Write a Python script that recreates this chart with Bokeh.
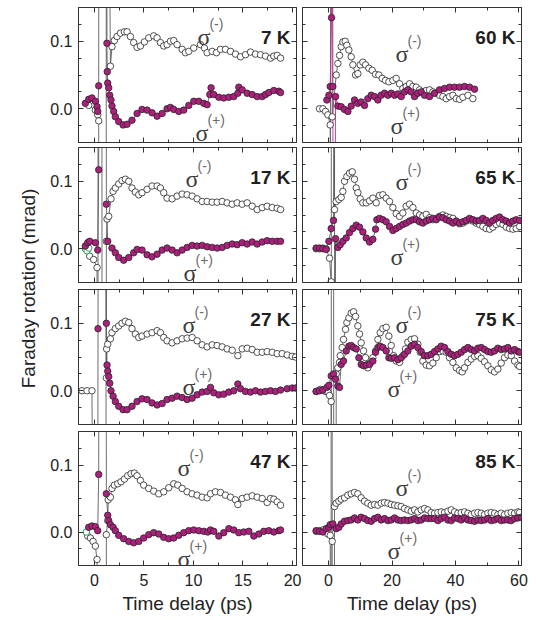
import math
from bokeh.plotting import figure
from bokeh.layouts import row, column
from bokeh.models import Label, LinearAxis, FixedTicker, Range1d, CustomJSTickFormatter
from bokeh.embed import file_html
from bokeh.resources import INLINE

# ---------------- data (time delay in ps, Faraday rotation in mrad) ----------------
# values of +/-0.9 are the off-scale coherent-artifact excursions near zero delay
t07m = [-0.57,0.10,0.34,0.44,0.46,1.19,1.21,1.23,1.62,1.78,2.02,2.29,2.63,3.03,3.30,3.64,3.97,4.31,4.65,5.05,5.49,5.99,6.33,6.67,7.00,7.34,7.68,8.01,8.35,8.86,9.19,9.53,10.03,10.71,11.11,11.38,11.89,12.32,12.73,13.23,13.74,14.24,14.75,15.25,15.76,16.26,16.77,17.27,17.78,18.11,18.45,18.79]
v07m = [0.005,-0.002,-0.009,-0.018,-0.9,-0.9,0.9,0.9,0.063,0.092,0.101,0.107,0.112,0.114,0.114,0.107,0.098,0.091,0.093,0.099,0.105,0.108,0.105,0.098,0.093,0.095,0.100,0.101,0.095,0.088,0.083,0.085,0.090,0.095,0.090,0.083,0.085,0.083,0.088,0.088,0.085,0.081,0.077,0.080,0.084,0.081,0.080,0.078,0.075,0.078,0.079,0.075]
t07p = [-0.91,-0.57,-0.24,0.10,0.27,0.34,0.44,0.46,1.26,1.27,1.30,1.35,1.45,1.55,1.68,1.78,1.95,2.12,2.46,2.90,3.30,3.80,4.31,4.81,5.32,5.82,6.33,6.84,7.34,7.68,8.01,8.52,9.02,9.53,10.03,10.54,11.04,11.38,11.65,11.78,12.05,12.56,13.06,13.57,14.07,14.48,14.58,14.92,15.42,15.93,16.43,16.94,17.27,17.61,18.11,18.62,18.79]
v07p = [0.008,0.014,0.016,0.011,0.003,-0.004,0.034,0.9,0.9,0.097,0.055,0.038,0.031,0.020,0.013,0.004,-0.004,-0.012,-0.019,-0.024,-0.023,-0.017,-0.007,-0.001,-0.002,-0.006,-0.011,-0.007,0.000,0.002,-0.001,-0.004,-0.002,0.005,0.011,0.011,0.008,0.006,0.021,0.031,0.021,0.017,0.016,0.017,0.018,0.023,0.032,0.028,0.023,0.021,0.018,0.018,0.021,0.024,0.027,0.026,0.024]

t17m = [-0.47,-0.07,0.27,0.36,0.38,0.76,0.78,1.19,1.21,1.28,1.45,1.68,1.89,2.12,2.46,2.79,3.13,3.47,3.80,4.14,4.48,4.81,5.32,5.82,6.33,6.67,7.00,7.34,7.85,8.35,8.86,9.36,9.87,10.37,10.88,11.38,11.89,12.39,12.90,13.40,13.91,14.41,14.92,15.42,15.93,16.43,16.94,17.44,17.95,18.45,18.79]
v17m = [-0.011,-0.016,-0.028,-0.9,0.9,0.9,-0.9,-0.9,0.011,0.044,0.048,0.074,0.085,0.090,0.096,0.101,0.103,0.100,0.090,0.084,0.080,0.083,0.088,0.093,0.093,0.090,0.083,0.075,0.074,0.078,0.081,0.080,0.078,0.074,0.070,0.070,0.069,0.069,0.070,0.068,0.066,0.068,0.066,0.068,0.063,0.058,0.061,0.063,0.061,0.060,0.058]
t17p = [-0.91,-0.67,-0.47,0.10,0.34,0.44,0.46,1.19,1.21,1.35,1.78,2.12,2.46,2.96,3.47,3.97,4.31,4.81,5.32,5.82,6.33,6.84,7.34,7.85,8.35,8.86,9.36,9.87,10.37,10.88,11.38,11.89,12.39,12.90,13.40,13.91,14.41,14.92,15.42,15.93,16.43,16.94,17.44,17.95,18.45,18.79]
v17p = [0.004,0.009,0.011,0.009,-0.002,0.117,0.9,0.9,0.066,0.011,0.001,-0.006,-0.013,-0.017,-0.013,-0.006,-0.001,-0.002,-0.009,-0.012,-0.008,-0.002,0.001,-0.002,-0.006,-0.002,0.002,0.005,0.004,0.005,0.003,0.002,0.001,0.002,0.005,0.007,0.006,0.009,0.007,0.010,0.007,0.010,0.012,0.011,0.011,0.011]
t17g = [-0.91,-0.74,-0.57]
v17g = [0.000,-0.003,0.001]

t27m = [-1.25,-0.74,-0.24,0.05,1.17,1.19,1.21,1.24,1.35,1.62,1.78,2.12,2.46,2.79,3.13,3.47,3.80,4.14,4.48,4.81,5.32,5.82,6.33,6.67,7.00,7.34,7.85,8.35,8.86,9.36,9.87,10.37,10.88,11.38,11.89,12.39,12.90,13.40,13.91,14.48,14.92,15.42,15.93,16.43,16.94,17.44,17.95,18.45,18.96,19.46,19.97,20.30]
v27m = [0.0,0.0,0.0,-0.9,-0.9,0.9,0.019,0.062,0.069,0.077,0.086,0.092,0.096,0.100,0.103,0.101,0.092,0.084,0.079,0.081,0.084,0.086,0.089,0.086,0.079,0.074,0.071,0.074,0.077,0.078,0.079,0.074,0.068,0.065,0.068,0.067,0.065,0.062,0.060,0.052,0.062,0.063,0.061,0.057,0.057,0.058,0.057,0.055,0.055,0.053,0.051,0.050]
t27p = [0.30,0.37,0.45,1.00,1.21,1.28,1.35,1.45,1.55,1.68,1.89,2.12,2.46,2.90,3.30,3.80,4.31,4.81,5.32,5.82,6.33,6.84,7.34,7.85,8.35,8.86,9.36,9.87,10.37,10.88,11.38,11.72,12.05,12.56,13.06,13.57,14.07,14.48,14.75,15.25,15.76,16.26,16.77,17.27,17.78,18.28,18.79,19.46,19.97,20.30]
v27p = [-0.9,0.092,0.9,0.9,0.100,0.038,0.029,0.021,0.011,0.000,-0.008,-0.016,-0.023,-0.028,-0.028,-0.023,-0.016,-0.012,-0.013,-0.018,-0.021,-0.019,-0.013,-0.011,-0.008,-0.010,-0.013,-0.011,-0.006,-0.002,-0.001,0.005,-0.003,-0.006,-0.005,-0.002,0.000,0.010,0.003,-0.001,-0.002,0.000,-0.002,-0.001,0.000,-0.001,0.001,0.003,0.004,0.004]

t47m = [-0.67,-0.40,-0.13,0.10,0.27,0.33,1.19,1.21,1.35,1.40,1.62,1.78,2.02,2.36,2.69,3.03,3.37,3.70,4.04,4.31,4.65,4.98,5.49,5.99,6.50,7.00,7.51,8.01,8.42,8.86,9.36,9.87,10.37,10.88,11.38,11.72,12.22,12.73,13.23,13.74,14.24,14.48,14.92,15.42,15.93,16.43,16.94,17.44,17.78,18.11,18.45,18.79]
v47m = [-0.006,-0.009,-0.014,-0.021,-0.041,-0.9,-0.9,-0.004,0.017,0.048,0.052,0.065,0.070,0.072,0.075,0.079,0.084,0.087,0.088,0.084,0.077,0.070,0.065,0.061,0.057,0.060,0.066,0.072,0.070,0.065,0.060,0.057,0.055,0.052,0.051,0.057,0.060,0.059,0.055,0.052,0.048,0.041,0.050,0.052,0.054,0.052,0.050,0.044,0.050,0.049,0.045,0.040]
t47p = [-0.57,-0.24,0.10,0.34,0.44,0.46,1.19,1.21,1.35,1.45,1.62,1.89,2.12,2.46,2.96,3.47,3.97,4.48,4.98,5.49,5.99,6.50,7.00,7.51,8.01,8.52,9.02,9.53,10.03,10.54,11.04,11.45,11.72,12.05,12.56,13.06,13.57,14.07,14.58,15.08,15.59,16.09,16.60,17.10,17.61,18.11,18.62,18.79]
v47p = [0.007,0.009,0.008,0.002,0.086,0.9,0.9,0.057,0.025,0.017,0.011,0.007,0.002,-0.005,-0.010,-0.014,-0.016,-0.014,-0.009,-0.004,-0.001,-0.003,-0.008,-0.010,-0.009,-0.005,-0.001,0.002,0.003,0.002,0.001,0.000,0.003,0.001,-0.006,-0.001,0.005,0.003,-0.001,0.000,0.001,-0.006,-0.003,0.001,0.002,0.000,0.002,0.003]
t47g = [-0.81]
v47g = [0.000]

t60m = [-2.84,-1.79,-0.95,-0.21,0.53,0.60,0.65,1.10,1.16,2.42,2.94,3.47,3.99,4.52,5.25,5.78,6.41,7.14,7.67,8.51,9.24,9.98,10.82,11.66,12.71,13.76,14.81,15.86,16.91,17.96,19.01,20.27,21.32,22.37,23.42,24.47,25.53,26.58,27.63,28.68,29.73,30.78,31.83,32.88,33.93,34.98,36.03,37.08,38.13,39.18,40.23,41.28,42.33,43.91,45.48]
v60m = [0.000,0.000,-0.004,-0.009,-0.024,-0.9,0.9,0.9,-0.012,0.050,0.067,0.079,0.092,0.099,0.100,0.094,0.087,0.077,0.065,0.050,0.052,0.065,0.069,0.065,0.060,0.057,0.051,0.050,0.045,0.042,0.040,0.042,0.045,0.037,0.030,0.033,0.037,0.033,0.032,0.028,0.025,0.027,0.028,0.025,0.023,0.020,0.018,0.015,0.018,0.020,0.015,0.014,0.017,0.020,0.015]
t60p = [-0.53,0.11,0.53,0.95,1.00,1.20,1.37,1.60,2.21,2.94,3.99,5.04,6.09,7.14,8.19,9.24,10.29,11.34,12.39,13.45,14.50,15.55,16.60,17.65,18.70,19.75,20.80,21.85,22.90,23.95,25.00,26.05,27.10,28.15,29.20,30.25,31.83,33.40,34.98,36.55,38.13,39.71,41.28,42.86,44.43,46.01]
v60p = [0.013,0.020,0.033,0.135,0.9,0.9,0.033,-0.9,0.018,0.004,0.003,-0.001,-0.004,0.004,0.013,0.008,0.010,0.005,0.015,0.020,0.018,0.013,0.020,0.023,0.020,0.023,0.020,0.022,0.018,0.025,0.028,0.025,0.018,0.023,0.025,0.020,0.018,0.023,0.028,0.030,0.032,0.032,0.032,0.033,0.032,0.029]

t65m = [-3.89,-2.84,-1.79,-0.74,0.32,0.84,0.86,0.88,1.80,1.89,2.42,3.26,3.99,4.52,5.04,5.78,6.62,7.46,8.19,8.72,9.24,9.98,10.82,11.87,12.92,13.97,15.02,16.07,17.12,18.17,19.22,20.27,21.32,22.37,23.42,24.47,25.53,26.58,27.63,28.68,29.73,30.78,31.83,32.88,33.93,34.98,36.03,37.08,38.13,39.18,40.23,41.28,42.33,43.38,44.43,45.48,46.53,47.58,48.63,49.68,50.74,51.79,52.84,53.89,54.94,55.99,57.04,58.09,59.14,60.19]
v65m = [0.000,0.000,0.001,0.000,-0.014,-0.049,-0.9,0.9,0.9,0.058,0.070,0.073,0.076,0.085,0.100,0.107,0.112,0.114,0.103,0.090,0.083,0.074,0.068,0.068,0.071,0.075,0.068,0.079,0.080,0.075,0.070,0.061,0.052,0.048,0.053,0.063,0.066,0.061,0.053,0.050,0.048,0.051,0.046,0.043,0.045,0.048,0.050,0.048,0.046,0.045,0.040,0.037,0.038,0.041,0.043,0.041,0.038,0.036,0.033,0.030,0.029,0.032,0.036,0.038,0.036,0.032,0.030,0.029,0.030,0.033]
t65p = [-3.89,-2.84,-1.79,-0.74,0.11,0.84,1.58,1.88,1.92,2.21,2.94,3.68,4.52,5.57,6.62,7.67,8.72,9.77,10.82,11.87,12.92,13.97,14.81,15.23,16.07,17.12,18.17,19.22,20.27,21.32,22.37,23.42,24.47,25.53,26.58,27.63,28.68,29.73,30.78,31.83,32.88,33.93,34.98,36.03,37.08,38.13,39.18,40.23,41.28,42.33,43.38,44.43,45.48,46.53,47.58,48.63,49.68,50.74,51.79,52.84,53.89,54.94,55.99,57.04,58.09,59.14,60.19]
v65p = [0.001,0.001,0.000,-0.001,0.011,0.030,0.042,0.9,-0.9,0.015,0.002,0.006,0.011,0.016,0.024,0.030,0.035,0.032,0.025,0.016,0.010,0.014,0.029,0.043,0.045,0.043,0.040,0.033,0.027,0.030,0.033,0.036,0.038,0.041,0.043,0.043,0.040,0.038,0.041,0.043,0.045,0.043,0.047,0.046,0.043,0.041,0.038,0.041,0.038,0.040,0.042,0.045,0.043,0.041,0.042,0.045,0.042,0.038,0.042,0.045,0.047,0.043,0.041,0.038,0.041,0.043,0.042]

t75m = [-3.89,-2.63,-1.79,-0.95,-0.21,0.32,0.84,0.86,0.88,1.60,1.65,2.35,2.42,2.94,3.47,3.68,4.31,4.73,5.36,5.78,6.41,7.14,7.88,8.51,9.24,9.77,10.29,11.03,11.66,12.39,13.13,13.97,14.81,15.55,16.28,17.12,18.17,19.01,19.75,20.48,21.32,22.37,23.42,24.26,25.00,26.05,27.10,28.15,28.89,29.73,30.78,31.83,32.88,33.93,34.98,36.03,37.08,38.13,39.18,40.23,41.28,42.12,42.86,43.91,44.96,46.01,47.06,48.11,49.16,50.21,51.26,52.31,53.36,54.41,55.46,56.51,57.56,58.61,59.66,60.19]
v75m = [-0.001,0.002,0.001,-0.001,-0.002,-0.007,-0.016,-0.9,0.9,0.9,-0.9,-0.9,0.025,0.034,0.042,0.052,0.064,0.076,0.091,0.101,0.108,0.115,0.117,0.110,0.096,0.084,0.071,0.059,0.049,0.034,0.041,0.049,0.059,0.076,0.086,0.092,0.094,0.081,0.067,0.052,0.044,0.042,0.052,0.062,0.072,0.076,0.077,0.069,0.057,0.044,0.038,0.037,0.041,0.049,0.058,0.059,0.057,0.049,0.042,0.034,0.030,0.028,0.034,0.042,0.047,0.051,0.052,0.048,0.043,0.037,0.031,0.028,0.032,0.041,0.049,0.053,0.052,0.044,0.038,0.036]
t75p = [-3.89,-2.84,-1.79,-0.53,0.11,0.84,1.58,2.21,2.94,3.47,3.99,4.73,5.57,6.41,7.14,7.88,8.72,9.56,10.29,11.03,11.87,12.92,13.97,14.81,15.55,16.28,17.12,18.17,19.01,19.75,20.80,21.85,22.90,23.95,25.00,26.05,27.10,28.15,29.20,30.25,31.30,32.35,33.40,34.45,35.50,36.55,37.61,38.66,39.71,40.76,41.81,42.86,43.91,44.96,46.01,47.06,48.11,49.16,50.21,51.26,52.31,53.36,54.41,55.46,56.51,57.56,58.61,59.66,60.19]
v75p = [-0.001,0.000,0.001,0.005,0.008,0.022,0.025,0.017,0.007,0.005,0.039,0.044,0.059,0.066,0.067,0.064,0.062,0.049,0.039,0.037,0.038,0.039,0.044,0.057,0.064,0.066,0.064,0.059,0.049,0.048,0.049,0.046,0.049,0.054,0.059,0.066,0.069,0.064,0.058,0.052,0.052,0.054,0.058,0.062,0.066,0.064,0.058,0.054,0.052,0.054,0.057,0.061,0.064,0.061,0.059,0.063,0.064,0.061,0.058,0.057,0.059,0.063,0.061,0.062,0.064,0.059,0.061,0.058,0.057]

t85m = [-3.89,-2.84,-1.79,-0.95,-0.21,0.53,0.80,0.84,1.10,1.16,1.20,1.80,1.89,2.42,3.26,3.99,5.04,6.09,7.14,8.19,9.24,10.29,11.34,12.39,13.45,14.50,15.55,16.60,17.65,18.70,19.75,20.80,21.85,22.90,23.95,25.00,26.05,27.10,28.15,29.20,30.25,31.30,32.35,33.40,34.45,35.50,36.55,37.61,38.66,39.71,40.76,41.81,42.86,43.91,44.96,46.01,47.06,48.11,49.16,50.21,51.26,52.31,53.36,54.41,55.46,56.51,57.56,58.61,59.66,60.19]
v85m = [0.001,0.002,0.003,0.001,-0.003,-0.005,-0.9,0.9,0.9,-0.014,-0.9,-0.9,0.038,0.043,0.046,0.049,0.051,0.055,0.057,0.059,0.057,0.051,0.046,0.043,0.040,0.041,0.040,0.043,0.044,0.043,0.041,0.040,0.039,0.038,0.035,0.033,0.031,0.033,0.030,0.033,0.035,0.033,0.029,0.028,0.029,0.030,0.029,0.031,0.033,0.030,0.028,0.029,0.030,0.028,0.026,0.028,0.029,0.028,0.026,0.028,0.029,0.028,0.026,0.028,0.026,0.028,0.029,0.028,0.030,0.029]
t85p = [-3.89,-2.84,-1.79,-0.74,0.11,0.53,1.37,2.42,3.26,3.99,5.04,6.09,7.14,8.19,9.24,10.29,11.34,12.39,13.45,14.50,15.55,16.60,17.65,18.70,19.75,20.80,21.85,22.90,23.95,25.00,26.05,27.10,28.15,29.20,30.25,31.30,32.35,33.40,34.45,35.50,36.55,37.61,38.66,39.71,40.76,41.81,42.86,43.91,44.96,46.01,47.06,48.11,49.16,50.21,51.26,52.31,53.36,54.41,55.46,56.51,57.56,58.61,59.66,60.71]
v85p = [0.002,0.001,0.000,0.005,0.007,0.011,0.012,0.005,0.007,0.012,0.016,0.017,0.018,0.021,0.018,0.022,0.020,0.017,0.016,0.020,0.022,0.018,0.020,0.017,0.018,0.021,0.018,0.017,0.018,0.017,0.018,0.020,0.017,0.018,0.021,0.020,0.020,0.020,0.017,0.020,0.022,0.018,0.017,0.021,0.020,0.018,0.021,0.018,0.017,0.016,0.018,0.017,0.018,0.020,0.017,0.018,0.020,0.017,0.018,0.018,0.017,0.020,0.021,0.022]

temperatures = ["7 K", "17 K", "27 K", "47 K", "60 K", "65 K", "75 K", "85 K"]
x_ticks_left = [0, 5, 10, 15, 20]
x_ticks_right = [0, 20, 40, 60]
y_ticks = [0.0, 0.1]

# ---------------- style ----------------
MAG = "#ad1f7d"
EDGE = "#262626"
LINEC = "#5c5c5c"
AX = "#333333"
GREEN = "#2e9e5e"
FONT = "Liberation Sans"
SERIF = "Liberation Serif"

# sigma label anchor positions (data coords): (minus, plus)
sig_pos = {
    "7 K": ((10.4, 0.107), (10.2, -0.036)),
    "17 K": ((9.2, 0.104), (9.0, -0.036)),
    "27 K": ((8.9, 0.097), (8.9, 0.005)),
    "47 K": ((8.4, 0.096), (8.4, -0.041)),
    "60 K": ((21.1, 0.081), (19.5, -0.026)),
    "65 K": ((21.1, 0.099), (19.5, -0.012)),
    "75 K": ((21.1, 0.097), (18.6, 0.002)),
    "85 K": ((21.1, 0.065), (18.6, -0.028)),
}

series = {
    "7 K": (t07m, v07m, t07p, v07p, None, None),
    "17 K": (t17m, v17m, t17p, v17p, t17g, v17g),
    "27 K": (t27m, v27m, t27p, v27p, None, None),
    "47 K": (t47m, v47m, t47p, v47p, t47g, v47g),
    "60 K": (t60m, v60m, t60p, v60p, None, None),
    "65 K": (t65m, v65m, t65p, v65p, None, None),
    "75 K": (t75m, v75m, t75p, v75p, None, None),
    "85 K": (t85m, v85m, t85p, v85p, None, None),
}

for k, (a, b, c, d, e, f) in series.items():
    assert len(a) == len(b), (k, "minus", len(a), len(b))
    assert len(c) == len(d), (k, "plus", len(c), len(d))

# per-row frame geometry (top border, frame height, bottom border)
row_geom = [(7, 135, 3), (2, 135, 3), (4, 135, 3), (4, 134, 10)]


def style_axis(ax, ticks, minor, show_labels, fmt=None, standoff=5):
    ax.ticker = FixedTicker(ticks=ticks, minor_ticks=minor)
    ax.major_tick_in = 5
    ax.major_tick_out = 0
    ax.minor_tick_in = 3
    ax.minor_tick_out = 0
    ax.axis_line_color = AX
    ax.major_tick_line_color = AX
    ax.minor_tick_line_color = AX
    if show_labels:
        ax.major_label_text_font = FONT
        ax.major_label_text_font_size = "16px"
        ax.major_label_text_color = "#222222"
        ax.major_label_standoff = standoff
        if fmt is not None:
            ax.formatter = fmt
    else:
        ax.formatter = CustomJSTickFormatter(code="return ''")
        ax.major_label_text_font_size = "0px"
        ax.major_label_standoff = 0


def make_panel(temp, col, rowi):
    left = col == 0
    bottom = rowi == 3
    tb, fh, bb = row_geom[rowi]
    xr = (-1.6, 20.4) if left else (-8.2, 60.8)
    xt = x_ticks_left if left else x_ticks_right
    xminor = [2.5, 7.5, 12.5, 17.5] if left else [10, 30, 50]
    p = figure(
        frame_width=218 if left else 219,
        frame_height=fh,
        x_range=Range1d(*xr),
        y_range=Range1d(-0.05, 0.15),
        output_backend="svg",
        toolbar_location=None,
        min_border_left=39 if left else 1,
        min_border_right=5 if left else 7,
        min_border_top=tb,
        min_border_bottom=bb,
        background_fill_color="white",
        border_fill_color="white",
        outline_line_color=AX,
    )
    p.xgrid.visible = False
    p.ygrid.visible = False

    style_axis(p.xaxis[0], xt, xminor, bottom, standoff=8)
    if bottom:
        p.xaxis[0].axis_label = "Time delay (ps)"
        p.xaxis[0].axis_label_text_font = FONT
        p.xaxis[0].axis_label_text_font_size = "19px"
        p.xaxis[0].axis_label_text_font_style = "normal"
        p.xaxis[0].axis_label_text_color = "#222222"
        p.xaxis[0].axis_label_standoff = 4
    style_axis(p.yaxis[0], y_ticks, [-0.025, 0.025, 0.05, 0.075, 0.125], left,
               CustomJSTickFormatter(code="return tick.toFixed(1)"), standoff=6)

    top = LinearAxis()
    style_axis(top, xt, xminor, False)
    p.add_layout(top, "above")
    rgt = LinearAxis()
    style_axis(rgt, y_ticks, [-0.025, 0.025, 0.05, 0.075, 0.125], False)
    p.add_layout(rgt, "right")

    tm, vm, tp, vp, tg, vg = series[temp]
    pline = "#c0308a" if temp == "60 K" else LINEC
    p.line(tm, vm, line_color=LINEC, line_width=0.9)
    p.line(tp, vp, line_color=pline, line_width=0.9)
    p.scatter(tm, vm, size=6.5, fill_color="white", line_color=EDGE, line_width=0.8)
    if tg is not None:
        p.scatter(tg, vg, size=6.5, fill_color="white", line_color=GREEN, line_width=1.0)
    p.scatter(tp, vp, size=6.5, fill_color=MAG, line_color=EDGE, line_width=0.8)

    # temperature tag
    p.add_layout(Label(x=xr[1], y=0.15, x_offset=-6, y_offset=-30, text=temp,
                       text_align="right", text_baseline="alphabetic",
                       text_font=FONT, text_font_size="19px", text_font_style="bold",
                       text_color="#1e1e1e"))
    # sigma labels
    for (sx, sy), sign in zip(sig_pos[temp], ["-", "+"]):
        p.add_layout(Label(x=sx, y=sy, text="σ", text_font=SERIF, text_font_size="24px",
                           text_color="#3c3c3c", text_baseline="alphabetic", text_align="left"))
        p.add_layout(Label(x=sx, y=sy, x_offset=12, y_offset=13, text="(" + sign + ")",
                           text_font=FONT, text_font_size="14px",
                           text_color="#6a6a6a", text_baseline="alphabetic", text_align="left"))
    return p


left_figs = [make_panel(temperatures[i], 0, i) for i in range(4)]
right_figs = [make_panel(temperatures[4 + i], 1, i) for i in range(4)]

YL_H = 618
ylab = figure(width=39, height=YL_H, x_range=Range1d(0, 39), y_range=Range1d(0, YL_H),
              output_backend="svg", toolbar_location=None, x_axis_location=None,
              y_axis_location=None, min_border=0, outline_line_color=None,
              background_fill_color="white", border_fill_color="white")
ylab.xgrid.visible = False
ylab.ygrid.visible = False
ylab.add_layout(Label(x=28, y=YL_H - 288, text="Faraday rotation (mrad)", angle=90, angle_units="deg",
                      text_align="center", text_baseline="middle", text_font=FONT,
                      text_font_size="19px", text_color="#222222"))

layout = row(ylab, column(*left_figs, spacing=0), column(*right_figs, spacing=0), spacing=0)

open("out.html", "w").write(file_html(layout, INLINE))
